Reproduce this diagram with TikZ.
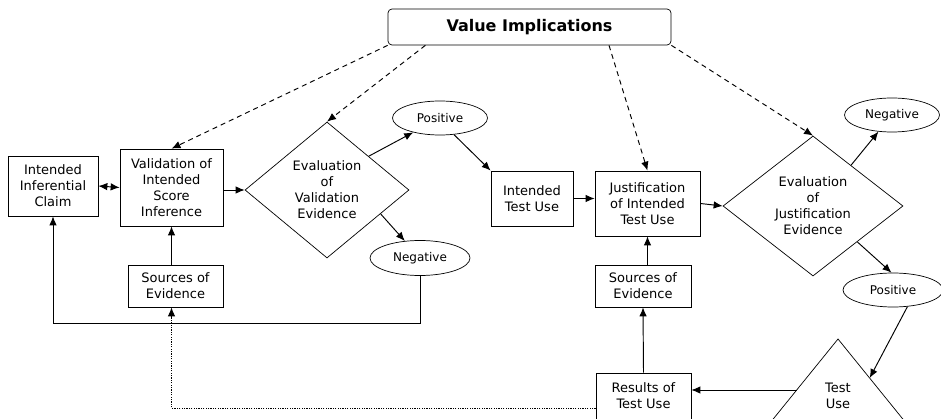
\documentclass[tikz,border=0pt]{standalone}
\usepackage{fontspec}
\setmainfont{DejaVu Sans}
\usetikzlibrary{shapes.geometric,arrows.meta}

\begin{document}
\begin{tikzpicture}[x=1pt, y=-1pt, >={Latex[length=9pt,width=7.5pt]},
      stage/.style ={rectangle, draw, line width=0.7pt, align=center, inner sep=1pt, font=\fontsize{13}{16}\selectfont},
      judgement/.style ={diamond, draw, line width=0.7pt, align=center, inner sep=0pt, aspect=1.3, font=\fontsize{13}{16}\selectfont},
      verdict/.style ={ellipse, draw, line width=0.7pt, inner sep=0pt, font=\fontsize{12}{14}\selectfont},
      link/.style ={line width=0.95pt, ->},
      implies/.style ={link, dash pattern=on 5pt off 4pt}]

   \useasboundingbox (0,0) rectangle (941,419);

   \node[stage, rounded corners=4pt, minimum width=283pt, minimum height=36pt, font=\fontsize{16}{18}\selectfont\bfseries] (value) at (529.5,27) {Value Implications};

   \node[stage, minimum width=90pt, minimum height=60pt] (claim) at (53,186) {Intended\\Inferential\\Claim};
   \node[stage, minimum width=103pt, minimum height=77pt] (valid) at (171.5,187.5) {Validation of\\Intended\\Score\\Inference};
   \node[stage, minimum width=95pt, minimum height=42pt] (src1) at (175.5,286) {Sources of\\Evidence};
   \node[judgement, minimum width=164pt, minimum height=136pt] (evalv) at (327,190) {Evaluation\\of\\Validation\\Evidence};
   \node[verdict, minimum width=95pt, minimum height=34pt] (pos1) at (440,118) {Positive};
   \node[verdict, minimum width=100pt, minimum height=35pt] (neg1) at (420,258) {Negative};

   \node[stage, minimum width=82pt, minimum height=55pt] (itu) at (532,198.5) {Intended\\Test Use};
   \node[stage, minimum width=105pt, minimum height=65pt] (just) at (647.5,203.5) {Justification\\of Intended\\Test Use};
   \node[stage, minimum width=96pt, minimum height=42pt] (src2) at (643,286) {Sources of\\Evidence};
   \node[judgement, minimum width=180pt, minimum height=140pt] (evalj) at (813,206) {Evaluation\\of\\Justification\\Evidence};
   \node[verdict, minimum width=95pt, minimum height=34pt] (neg2) at (892,115) {Negative};
   \node[verdict, minimum width=100pt, minimum height=34pt] (pos2) at (893,290) {Positive};

   \node[stage, minimum width=95pt, minimum height=46pt] (results) at (643.5,396) {Results of\\Test Use};

   \coordinate (apex) at (838,339);
   \coordinate (baseL) at (740,460);
   \coordinate (baseR) at (936,460);
   \coordinate (useL) at (796.6,390);
   \coordinate (useR) at (869.7,378);
   \draw[line width=0.7pt] (baseL) -- (apex) -- (baseR);
   \node[align=center, font=\fontsize{13}{16}\selectfont] (use) at (838,395.5) {Test\\Use};

   \draw[implies] (value.south west) to (valid.north);
   \draw[implies] (value.190) to (evalv.north);
   \draw[implies] (value.347) to (just.north);
   \draw[implies] (value.south east) to (evalj.north);

   \draw[link, <->] (claim.east) to (valid.west);
   \draw[link] (valid.east |- evalv) to (evalv.west);
   \draw[link] (valid.south |- src1.north) to (valid.south);
   \draw[link] (evalv.39) to (pos1);
   \draw[link] (evalv.336) to (neg1);
   \draw[link] (pos1.310) to (itu.north west);
   \draw[link] (neg1.south) -- ++(0,48) -| (claim.south);

   \draw[link] (itu.east) to (itu.east -| just.west);
   \draw[link] (just.south |- src2.north) to (just.south);
   \draw[link] (just.east) to (evalj.west);
   \draw[link] (evalj.47) to (neg2);
   \draw[link] (evalj.321) to (pos2.95);
   \draw[link] (pos2.311) to (useR);
   \draw[link] (useL) to (useL -| results.east);
   \draw[link] (results.north) to (src2.south);
   \draw[link, dash pattern=on 1.2pt off 1.2pt] ([yshift=-12pt]results.west) -| (valid.south |- src1.south);
 \end{tikzpicture}
\end{document}
